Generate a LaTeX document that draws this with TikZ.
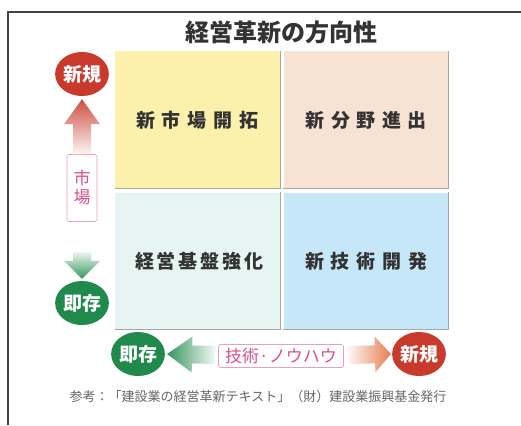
\documentclass[tikz,border=0pt]{standalone}
\usepackage{fontspec}
\setmainfont{Noto Sans CJK JP}
\usepackage{tikz}
\usetikzlibrary{calc,shapes.geometric}
\definecolor{cellYellow}{HTML}{FBF0AC}
\definecolor{cellPeach}{HTML}{F8E2D4}
\definecolor{cellMint}{HTML}{E6F5F1}
\definecolor{cellBlue}{HTML}{C6E7F7}
\definecolor{newRed}{HTML}{C83A2C}
\definecolor{oldGreen}{HTML}{1F8A4C}
\definecolor{tagPink}{HTML}{D9508A}
\definecolor{techOrange}{HTML}{E4703C}
\definecolor{textGray}{HTML}{333333}
\definecolor{frameGray}{HTML}{444444}
%% block arrow: #1 shading, #2 tail, #3 tip, #4 head length
\newcommand\aeBlockArrow[4]{%
  \coordinate (HB) at ($(#3)!#4!(#2)$);
  \shade[#1] ($(#2)!9pt!90:(#3)$) -- ($(HB)!9pt!-90:(#2)$) -- ($(HB)!18pt!-90:(#2)$)
    -- (#3) -- ($(HB)!18pt!90:(#2)$) -- ($(HB)!9pt!90:(#2)$) -- ($(#2)!9pt!-90:(#3)$) -- cycle;}

\begin{document}
\begin{tikzpicture}[x=1pt,y=-1pt,
  cell/.style={minimum width=165pt,minimum height=137pt,inner sep=0pt,text=textGray,
    font=\fontsize{19}{19}\selectfont\bfseries},
  cellshadow/.style={draw=gray!70,line width=1pt},
  axisball/.style={ellipse,minimum width=50pt,minimum height=44pt,inner sep=0pt,text=white,
    font=\fontsize{19}{19}\selectfont\bfseries},
  axistag/.style={draw=tagPink!55,fill=white,text=tagPink,inner sep=0pt,align=center,
    rounded corners=1.5pt,line width=0.7pt,font=\fontsize{17}{19}\selectfont}]

  \useasboundingbox[fill=white] (0,0) rectangle (521,425);
  \draw[line width=1.2pt,draw=frameGray] (8,425) -- (8,12) -- (521,12);

  %% Title
  \node[text=textGray,font=\fontsize{24}{24}\selectfont\bfseries] (title) at (281,32) {経営革新の方向性};

  %% The four fields
  \foreach \name/\x/\y/\col/\boxw/\txt in {
    kaitaku/197.5/120/cellYellow/123pt/新 市 場 開 拓,
    shinshutsu/366/120/cellPeach/121pt/新 分 野 進 出,
    kiban/197.5/261/cellMint/125pt/経 営 基 盤 強 化,
    gijutsu/366/261/cellBlue/122pt/新 技 術 開 発}
  {
    \node[cell,fill=\col] (\name) at (\x,\y) {\makebox[\boxw][s]{\txt}};
    \draw[cellshadow] (\name.north east) -- (\name.south east) -- (\name.south west);
  }

  %% Market axis (left)
  \node[axisball,fill=newRed] (mktNew) at (82,74) {新規};
  \node[axistag,minimum width=30pt,minimum height=67pt] (mktTag) at (82,188) {市\\場};
  \node[axisball,fill=oldGreen] (mktOld) at (82,303) {即存};
  \coordinate (mktNewTip) at ($(mktNew.south)+(0,3)$);
  \coordinate (mktOldTail) at ($(mktOld.north)+(0,-29)$);
  \coordinate (mktOldTip) at ($(mktOld.north)+(0,-2)$);
  \aeBlockArrow{top color=newRed!90,bottom color=newRed!5}{mktTag.north}{mktNewTip}{25pt}
  \aeBlockArrow{top color=oldGreen!8,bottom color=oldGreen!90}{mktOldTail}{mktOldTip}{18pt}

  %% Technology axis (bottom)
  \node[axisball,fill=oldGreen] (techOld) at (138,354) {即存};
  \node[axistag,minimum width=125pt,minimum height=23pt] (techTag) at (281,356) {技術·ノウハウ};
  \node[axisball,fill=newRed] (techNew) at (419,354) {新規};
  \coordinate (techOldTail) at ($(techTag.west)+(-3,-1)$);
  \coordinate (techOldTip) at ($(techOld.east)+(2,0)$);
  \coordinate (techNewTail) at ($(techTag.east)+(4,-1)$);
  \coordinate (techNewTip) at ($(techNew.west)+(-1,0)$);
  \aeBlockArrow{left color=oldGreen!90,right color=oldGreen!5}{techOldTail}{techOldTip}{25pt}
  \aeBlockArrow{left color=techOrange!5,right color=techOrange!90}{techNewTail}{techNewTip}{16pt}

  %% Source note
  \node[text=gray!80!black,font=\fontsize{13}{13}\selectfont] (source) at (258,397)
    {参考：「建設業の経営革新テキスト」（財）建設業振興基金発行};

\end{tikzpicture}
\end{document}
